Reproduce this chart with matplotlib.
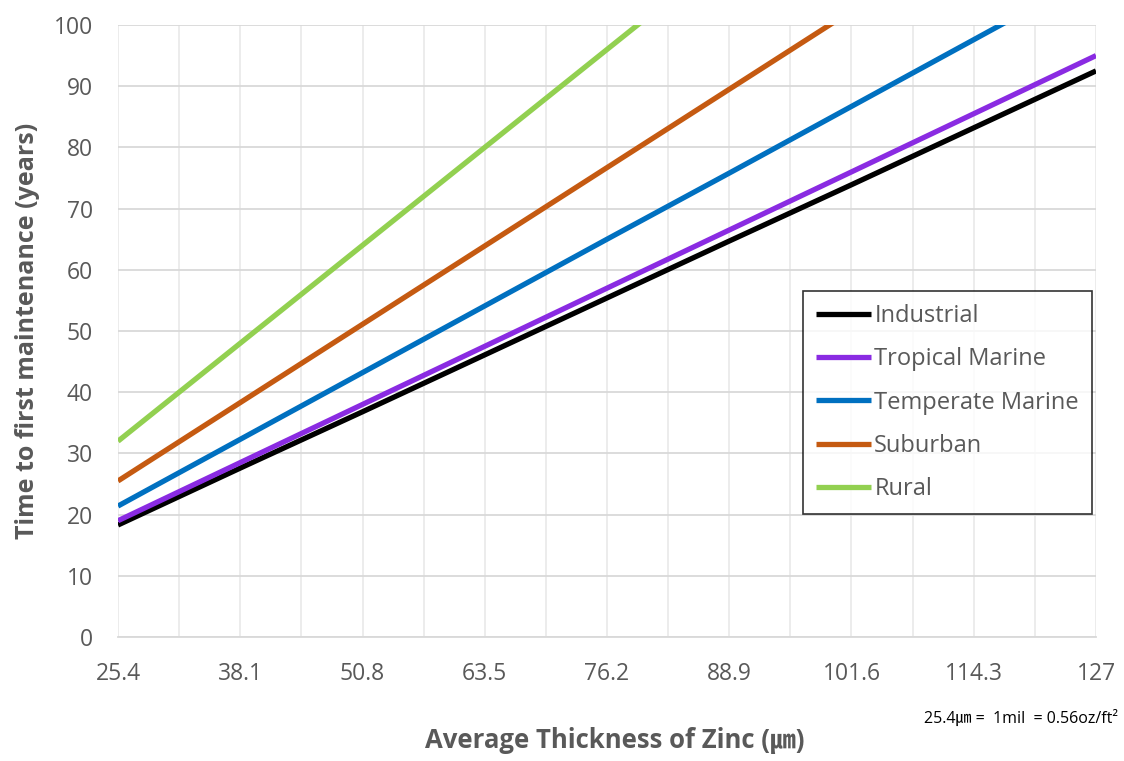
import matplotlib
matplotlib.use("Agg")
import matplotlib.pyplot as plt
import numpy as np

plt.rcParams['font.family'] = ['Open Sans', 'Noto Sans CJK KR', 'DejaVu Sans']

thickness = [25.4, 38.1, 50.8, 63.5, 76.2, 88.9, 101.6, 114.3, 127]
tick_labels = ["25.4", "38.1", "50.8", "63.5", "76.2", "88.9", "101.6", "114.3", "127"]
industrial = [18.3, 27.6, 36.8, 46.1, 55.4, 64.7, 73.9, 83.2, 92.5]
tropical_marine = [19.0, 28.5, 38.0, 47.5, 57.0, 66.5, 76.0, 85.5, 95.0]
temperate_marine = [21.4, 32.3, 43.2, 54.1, 65.0, 75.8, 86.7, 97.6, 108.5]
suburban = [25.5, 38.3, 51.1, 63.9, 76.7, 89.5, 102.3, 115.1, 127.9]
rural = [32.0, 48.0, 64.0, 80.0, 96.0, 112.0, 128.0, 144.0, 160.0]

series = [
    ("Industrial", industrial, "#000000"),
    ("Tropical Marine", tropical_marine, "#8a2be2"),
    ("Temperate Marine", temperate_marine, "#0070c0"),
    ("Suburban", suburban, "#c55a11"),
    ("Rural", rural, "#92d050"),
]

fig = plt.figure(figsize=(11.24, 7.61), dpi=100)
ax = fig.add_axes([118/1124, 1-637/761, (1096-118)/1124, (637-25)/761])

for name, vals, col in series:
    ax.plot(thickness, vals, color=col, lw=3.8, label=name, solid_capstyle='butt', zorder=3)

ax.set_xlim(25.4, 127)
ax.set_ylim(0, 100)
ax.set_xticks(thickness)
ax.set_xticklabels(tick_labels)
ax.set_xticks(np.arange(25.4 + 6.35, 127, 12.7), minor=True)
ax.set_yticks(np.arange(0, 101, 10))

ax.grid(axis='y', which='major', color='#d9d9d9', lw=1.3, zorder=0)
ax.grid(axis='x', which='both', color='#ebebeb', lw=1.3, zorder=0)
for s in ['top', 'right', 'left']:
    ax.spines[s].set_visible(False)
ax.spines['bottom'].set_color('#d9d9d9')
ax.spines['bottom'].set_linewidth(1.3)
ax.tick_params(which='both', length=0, labelsize=16.5, colors='#595959')
ax.tick_params(axis='x', pad=18)
ax.tick_params(axis='y', pad=18)

ax.set_ylabel("Time to first maintenance (years)", fontsize=18, fontweight='bold', color='#595959', labelpad=10)
fig.text(615/1124, 1-740/761, "Average Thickness of Zinc (㎛)", fontsize=18.5, fontweight='bold',
         color='#595959', ha='center', va='center')
fig.text(1118/1124, 1-718/761, "25.4㎛ =  1mil  = 0.56oz/ft²", fontsize=11.5, color='#000000',
         ha='right', va='center')

leg = ax.legend(loc='upper left', bbox_to_anchor=((803-118)/978, (637-291)/612), borderaxespad=0,
                fontsize=17, frameon=True, fancybox=False, edgecolor='#000000', handlelength=2.35,
                handletextpad=0.12, labelspacing=0.82, borderpad=0.55, labelcolor='#595959')
leg.get_frame().set_linewidth(1.2)

fig.savefig("out.png", dpi=100, facecolor='white')
